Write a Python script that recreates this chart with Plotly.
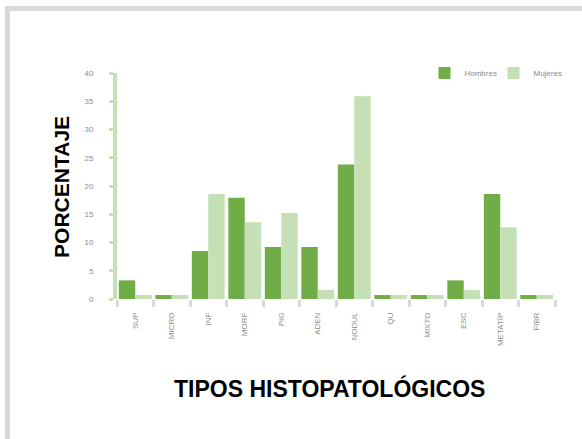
import plotly.graph_objects as go

# Histopathological subtype abbreviations (x categories)
categories = ["SUP", "MICRO", "INF", "MORF", "PIG", "ADEN", "NODUL", "QU", "MIXTO", "ESC", "METATÍP", "FIBR"]

# Percentage of cases per subtype for each group
serie_a_name = "Hombres"
serie_b_name = "Mujeres"
serie_a = [3.3, 0.7, 8.5, 17.9, 9.2, 9.2, 23.8, 0.7, 0.7, 3.3, 18.6, 0.7]
serie_b = [0.7, 0.7, 18.6, 13.6, 15.2, 1.6, 35.9, 0.7, 0.7, 1.6, 12.7, 0.7]

y_ticks = [0, 5, 10, 15, 20, 25, 30, 35, 40]

DARK = "#70AD47"
LIGHT = "#C5E0B4"
GREY_TXT = "#8c8c8c"

fig = go.Figure()
fig.add_trace(go.Bar(x=categories, y=serie_a, name=serie_a_name,
                     marker=dict(color=DARK, line=dict(width=0))))
fig.add_trace(go.Bar(x=categories, y=serie_b, name=serie_b_name,
                     marker=dict(color=LIGHT, line=dict(width=0))))

fig.update_layout(
    width=582, height=439,
    margin=dict(l=117, r=27, t=73, b=140, autoexpand=False),
    paper_bgcolor="white", plot_bgcolor="white",
    barmode="group", bargap=0.1, bargroupgap=0,
    font=dict(family="Liberation Sans, Arial, sans-serif", size=8, color=GREY_TXT),
    showlegend=True,
    legend=dict(orientation="h", x=0.702, y=1.0, xanchor="left", yanchor="middle",
                font=dict(size=8, color=GREY_TXT), itemwidth=30,
                entrywidth=24, entrywidthmode="pixels",
                bgcolor="rgba(0,0,0,0)"),
    xaxis=dict(
        type="category", showgrid=False, showline=False, zeroline=False,
        ticks="outside", tickson="boundaries", ticklen=7, tickwidth=3,
        tickcolor="#d9d9d9", tickangle=-90, ticklabelstandoff=11,
        tickfont=dict(size=8, color=GREY_TXT), automargin=False,
    ),
    yaxis=dict(
        range=[0, 40], tickvals=y_ticks, showgrid=False, zeroline=False,
        showline=True, linecolor=LIGHT, linewidth=4,
        ticks="outside", ticklen=4, tickwidth=3, tickcolor=LIGHT,
        tickfont=dict(size=8, color=GREY_TXT), ticklabelstandoff=14,
        automargin=False,
    ),
    annotations=[
        dict(text="<b>PORCENTAJE</b>", xref="paper", yref="paper",
             x=-0.1256, y=0.496, xanchor="center", yanchor="middle",
             textangle=-90, showarrow=False,
             font=dict(size=21, color="black", family="Liberation Sans, Arial, sans-serif")),
        dict(text="<b>TIPOS HISTOPATOLÓGICOS</b>", xref="paper", yref="paper",
             x=0.486, y=-0.398, xanchor="center", yanchor="middle",
             showarrow=False,
             font=dict(size=23, color="black", family="Liberation Sans, Arial, sans-serif")),
    ],
    shapes=[
        # outer frame of the chart area (right and bottom edges fall off-canvas)
        dict(type="rect", xref="paper", yref="paper",
             x0=-0.25, x1=1.3, y0=-0.8, y1=1.285,
             line=dict(color="#d9d9d9", width=5), fillcolor="rgba(0,0,0,0)",
             layer="below"),
    ],
)

fig.write_html("out.html")
